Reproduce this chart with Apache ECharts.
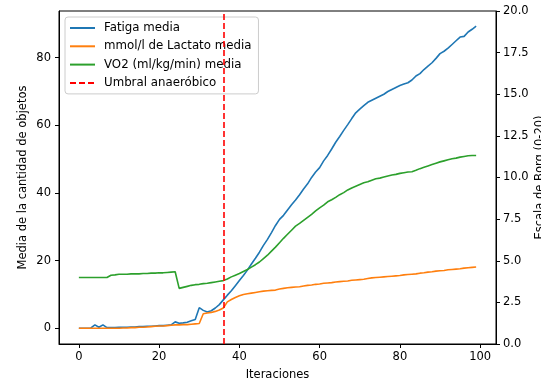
<!DOCTYPE html>
<html>
<head>
<meta charset="utf-8">
<script src="https://cdn.jsdelivr.net/npm/echarts@6/dist/echarts.min.js"></script>
<style>
  html, body { margin: 0; padding: 0; background: #fff; }
  #chart { width: 541px; height: 380px; }
</style>
</head>
<body>
<div id="chart"></div>
<script>
// Iterations 0..99
const iteraciones = [
  0,1,2,3,4,5,6,7,8,9,10,11,12,13,14,15,16,17,18,19,
  20,21,22,23,24,25,26,27,28,29,30,31,32,33,34,35,36,37,38,39,
  40,41,42,43,44,45,46,47,48,49,50,51,52,53,54,55,56,57,58,59,
  60,61,62,63,64,65,66,67,68,69,70,71,72,73,74,75,76,77,78,79,
  80,81,82,83,84,85,86,87,88,89,90,91,92,93,94,95,96,97,98,99
];

const fatigaMedia = [
  0.0,0.0,0.0,0.1,1.0,0.3,1.0,0.2,0.2,0.2,0.3,0.3,0.3,0.4,0.4,0.5,0.5,0.6,0.6,0.7,
  0.8,0.8,0.9,1.0,1.9,1.5,1.6,1.8,2.2,2.6,6.1,5.3,4.8,5.2,6.0,7.0,8.4,9.8,11.1,12.6,
  14.1,15.6,17.2,19.0,20.7,22.5,24.5,26.3,28.3,30.4,32.2,33.4,35.0,36.5,37.9,39.5,41.2,42.7,44.6,46.2,
  47.5,49.5,51.1,53.0,55.0,56.7,58.5,60.2,62.0,63.7,64.8,65.8,66.8,67.4,68.0,68.6,69.2,70.0,70.6,71.2,
  71.8,72.2,72.6,73.4,74.6,75.3,76.5,77.5,78.5,79.8,81.2,81.9,82.8,83.9,85.0,86.1,86.3,87.6,88.4,89.3
];

const lactatoMedia = [
  0.0,0.0,0.0,0.0,0.0,0.0,0.0,0.0,0.0,0.0,0.0,0.1,0.1,0.2,0.2,0.3,0.3,0.4,0.5,0.6,
  0.7,0.7,0.8,0.9,1.0,1.0,1.1,1.1,1.2,1.3,1.4,4.3,4.5,4.7,5.0,5.4,6.0,7.8,8.5,9.1,
  9.6,10.0,10.2,10.4,10.6,10.8,11.0,11.1,11.2,11.3,11.6,11.8,12.0,12.1,12.2,12.3,12.5,12.7,12.8,13.0,
  13.1,13.3,13.4,13.5,13.7,13.8,13.9,14.0,14.2,14.3,14.4,14.5,14.7,14.9,15.0,15.1,15.2,15.3,15.4,15.5,
  15.6,15.8,15.9,16.0,16.1,16.3,16.4,16.6,16.7,16.9,17.0,17.1,17.3,17.4,17.5,17.6,17.8,17.9,18.0,18.1
];

const vo2Media = [
  15.0,15.0,15.0,15.0,15.0,15.0,15.0,15.0,15.7,15.8,16.0,16.0,16.0,16.1,16.1,16.1,16.2,16.2,16.3,16.3,
  16.4,16.4,16.5,16.6,16.7,11.8,12.1,12.4,12.7,12.9,13.0,13.2,13.3,13.5,13.7,13.9,14.1,14.6,15.2,15.7,
  16.2,16.8,17.4,18.1,18.8,19.6,20.6,21.6,22.8,24.0,25.3,26.6,27.8,29.0,30.2,31.0,31.9,32.8,33.7,34.7,
  35.6,36.4,37.4,38.0,38.7,39.5,40.1,40.9,41.5,42.0,42.5,43.0,43.3,43.8,44.2,44.4,44.7,45.0,45.3,45.5,
  45.8,46.0,46.2,46.3,46.7,47.2,47.6,48.0,48.4,48.8,49.2,49.5,49.8,50.1,50.3,50.6,50.8,51.0,51.1,51.1
];

// Anaerobic threshold iteration
const umbralAnaerobico = 36;

const xTicks = [0, 20, 40, 60, 80, 100];
const leftTicks = [0, 20, 40, 60, 80];
const rightTicks = [0, 2.5, 5, 7.5, 10, 12.5, 15, 17.5, 20];

const pairs = (ys) => iteraciones.map((x, i) => [x, ys[i]]);

const FONT = 'DejaVu Sans';
const FS = 11.5;
const axisText = { color: '#000', fontFamily: FONT, fontSize: FS };

const chart = echarts.init(document.getElementById('chart'), null, { renderer: 'canvas' });

chart.setOption({
  animation: false,
  backgroundColor: '#fff',
  textStyle: { fontFamily: FONT },
  grid: {
    left: 59, right: 45, top: 11, bottom: 36,
    outerBoundsMode: 'none', containLabel: false,
    show: true, borderColor: '#000', borderWidth: 1, backgroundColor: 'transparent'
  },
  legend: {
    left: 65, top: 17,
    orient: 'vertical',
    itemWidth: 25, itemHeight: 12, itemGap: 6.3,
    padding: [5, 7, 5, 4],
    backgroundColor: 'rgba(255,255,255,0.8)',
    borderColor: '#cccccc', borderWidth: 1, borderRadius: 3,
    itemStyle: { color: 'transparent', borderColor: 'transparent', borderWidth: 0, opacity: 0 },
    textStyle: { color: '#000', fontFamily: FONT, fontSize: 11.8, padding: [0, 0, 0, 4] },
    data: ['Fatiga media', 'mmol/l de Lactato media', 'VO2 (ml/kg/min) media', 'Umbral anaeróbico']
  },
  xAxis: {
    type: 'value',
    min: -4.95, max: 103.95,
    name: 'Iteraciones', nameLocation: 'middle', nameGap: 25, nameMoveOverlap: false,
    nameTextStyle: axisText,
    axisLine: { onZero: false, lineStyle: { color: '#000', width: 1 } },
    axisTick: { show: true, length: 4, customValues: xTicks, lineStyle: { color: '#000' } },
    axisLabel: Object.assign({ margin: 7, customValues: xTicks }, axisText),
    splitLine: { show: false }
  },
  yAxis: [
    {
      type: 'value',
      min: -4.64, max: 93.8,
      name: 'Media de la cantidad de objetos', nameLocation: 'middle', nameGap: 30, nameRotate: 90,
      nameMoveOverlap: false,
      nameTextStyle: axisText,
      axisLine: { show: true, onZero: false, lineStyle: { color: '#000', width: 1 } },
      axisTick: { show: true, length: 4, customValues: leftTicks, lineStyle: { color: '#000' } },
      axisLabel: Object.assign({ margin: 8, customValues: leftTicks }, axisText),
      splitLine: { show: false }
    },
    {
      type: 'value',
      position: 'right',
      min: 0, max: 20,
      name: 'Escala de Borg (0-20)', nameLocation: 'middle', nameGap: 38, nameRotate: 90,
      nameMoveOverlap: false,
      nameTextStyle: axisText,
      axisLine: { show: true, onZero: false, lineStyle: { color: '#000', width: 1 } },
      axisTick: { show: true, length: 4, customValues: rightTicks, lineStyle: { color: '#000' } },
      axisLabel: Object.assign({
        margin: 7, customValues: rightTicks,
        formatter: (v) => Number(v).toFixed(1)
      }, axisText),
      splitLine: { show: false }
    }
  ],
  series: [
    {
      name: 'Fatiga media', type: 'line', yAxisIndex: 0,
      data: pairs(fatigaMedia), showSymbol: false, symbol: 'none',
      color: '#1f77b4', lineStyle: { color: '#1f77b4', width: 1.6 }
    },
    {
      name: 'mmol/l de Lactato media', type: 'line', yAxisIndex: 0,
      data: pairs(lactatoMedia), showSymbol: false, symbol: 'none',
      color: '#ff7f0e', lineStyle: { color: '#ff7f0e', width: 1.6 }
    },
    {
      name: 'VO2 (ml/kg/min) media', type: 'line', yAxisIndex: 0,
      data: pairs(vo2Media), showSymbol: false, symbol: 'none',
      color: '#2ca02c', lineStyle: { color: '#2ca02c', width: 1.6 }
    },
    {
      name: 'Umbral anaeróbico', type: 'line', yAxisIndex: 0,
      data: [], symbol: 'none',
      color: '#ff0000', lineStyle: { color: '#ff0000', width: 1.6, type: [6, 3] },
      markLine: {
        silent: true, symbol: 'none', label: { show: false },
        lineStyle: { color: '#ff0000', width: 1.6, type: [6, 3] },
        data: [{ xAxis: umbralAnaerobico }]
      }
    }
  ]
});
</script>
</body>
</html>
